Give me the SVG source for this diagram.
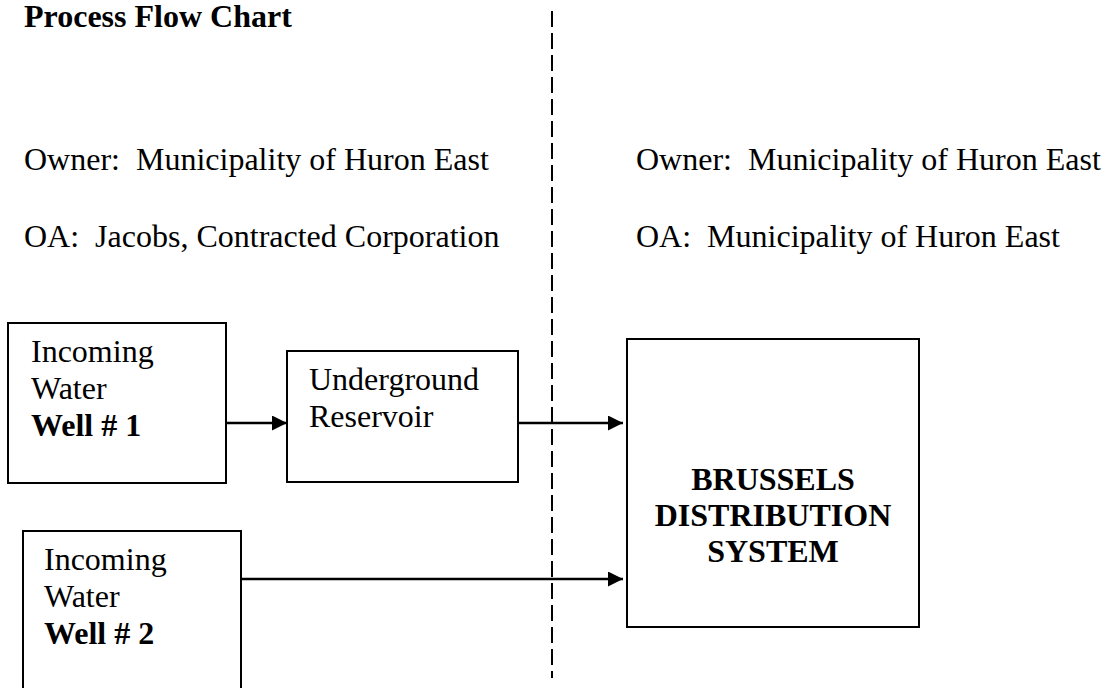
<svg xmlns="http://www.w3.org/2000/svg" width="1108" height="688" viewBox="0 0 1108 688">
<style>
text{font-family:"Liberation Serif","Times New Roman",serif;font-size:32px;fill:#000;white-space:pre}
.b{font-weight:bold}
.box{fill:#fff;stroke:#000;stroke-width:2}
.conn{stroke:#000;stroke-width:2.5;fill:none}
.div{stroke:#000;stroke-width:2;stroke-dasharray:16 6}
</style>
<defs>
<marker id="ah" markerUnits="userSpaceOnUse" markerWidth="16" markerHeight="16" refX="15" refY="7.5" orient="auto">
<path d="M0,0 L15,7.5 L0,15 Z" fill="#000"/>
</marker>
</defs>
<rect width="1108" height="688" fill="#fff"/>
<text class="b" x="24" y="27">Process Flow Chart</text>
<line class="div" x1="552" y1="11" x2="552" y2="678"/>
<text x="24" y="170">Owner:  Municipality of Huron East</text>
<text x="24" y="247">OA:  Jacobs, Contracted Corporation</text>
<text x="636" y="170">Owner:  Municipality of Huron East</text>
<text x="636" y="247">OA:  Municipality of Huron East</text>
<g id="well1">
<rect class="box" x="8" y="323" width="218" height="160"/>
<text x="31" y="362">Incoming</text>
<text x="31" y="399">Water</text>
<text class="b" x="31" y="436">Well # 1</text>
</g>
<g id="reservoir">
<rect class="box" x="287" y="351" width="231" height="131"/>
<text x="309" y="390">Underground</text>
<text x="309" y="427">Reservoir</text>
</g>
<g id="brussels">
<rect class="box" x="627" y="339" width="292" height="288"/>
<text class="b" x="773" y="490" text-anchor="middle">BRUSSELS</text>
<text class="b" x="773" y="526" text-anchor="middle">DISTRIBUTION</text>
<text class="b" x="773" y="562" text-anchor="middle">SYSTEM</text>
</g>
<g id="well2">
<rect class="box" x="23" y="531" width="218" height="170"/>
<text x="44" y="570">Incoming</text>
<text x="44" y="607">Water</text>
<text class="b" x="44" y="644">Well # 2</text>
</g>
<g id="connectors">
<line class="conn" x1="226" y1="423" x2="287" y2="423" marker-end="url(#ah)"/>
<line class="conn" x1="518" y1="423" x2="623" y2="423" marker-end="url(#ah)"/>
<line class="conn" x1="241" y1="579" x2="623" y2="579" marker-end="url(#ah)"/>
</g>
</svg>
